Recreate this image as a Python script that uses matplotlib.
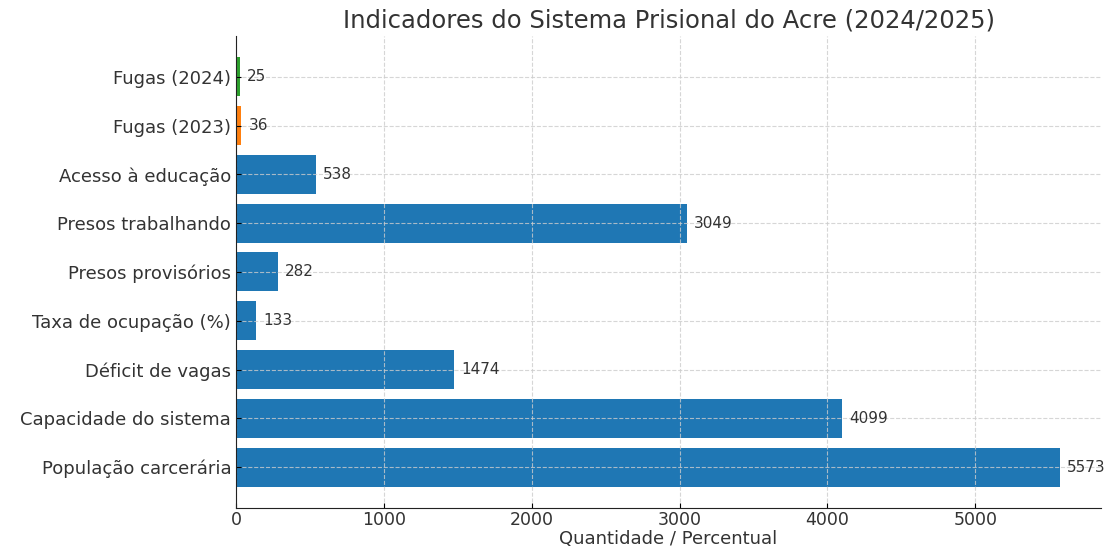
import matplotlib
matplotlib.use("Agg")
import matplotlib.pyplot as plt

plt.rcParams["font.family"] = ["DejaVu Sans"]

# Indicators, bottom to top as drawn
categories = [
    "População carcerária",
    "Capacidade do sistema",
    "Déficit de vagas",
    "Taxa de ocupação (%)",
    "Presos provisórios",
    "Presos trabalhando",
    "Acesso à educação",
    "Fugas (2023)",
    "Fugas (2024)",
]
values = [5573, 4099, 1474, 133, 282, 3049, 538, 36, 25]
colors = ["#1f77b4"] * 7 + ["#ff7f0e", "#2ca02c"]

text_color = "#333333"

fig, ax = plt.subplots(figsize=(11.19, 5.5), dpi=100)
fig.subplots_adjust(left=0.211, right=0.984, top=0.935, bottom=0.076)

ax.barh(categories, values, color=colors, height=0.8)

# value labels to the right of each bar
for i, v in enumerate(values):
    ax.text(v + 50, i, str(v), va="center", ha="left", fontsize=11, color=text_color)

ax.set_title("Indicadores do Sistema Prisional do Acre (2024/2025)",
             fontsize=17.5, color=text_color, pad=6)
ax.set_xlabel("Quantidade / Percentual", fontsize=13, color=text_color, labelpad=1)

ax.grid(True, linestyle="--", color="#cccccc", linewidth=0.8, alpha=0.8)
ax.set_axisbelow(False)

ax.spines["top"].set_visible(False)
ax.spines["right"].set_visible(False)
for s in ("left", "bottom"):
    ax.spines[s].set_zorder(3)
    ax.spines[s].set_color("#222222")
ax.tick_params(direction="in", labelcolor=text_color)
ax.tick_params(axis="y", labelsize=13)
ax.tick_params(axis="x", labelsize=12.5, pad=2)

fig.savefig("out.png", dpi=100)
